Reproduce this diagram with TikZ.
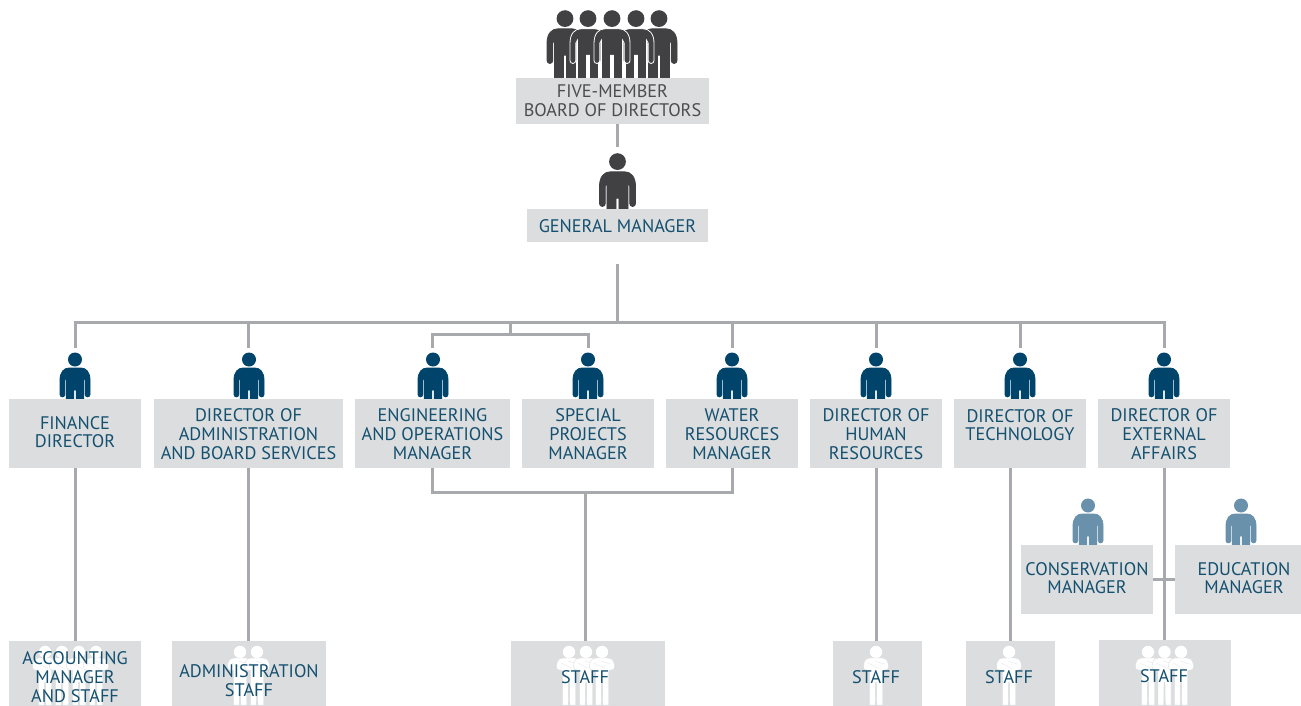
\documentclass[tikz,border=0pt]{standalone}
\usepackage{fontspec}
\usetikzlibrary{calc}
\setmainfont{PT Sans}
\definecolor{boxgray}{HTML}{DCDDDE}
\definecolor{linegray}{HTML}{A7A9AC}
\definecolor{navy}{HTML}{00446B}
\definecolor{navytext}{HTML}{14506F}
\definecolor{darkgray}{HTML}{414042}
\definecolor{greytext}{HTML}{4D4D4F}
\definecolor{teal}{HTML}{6A91AB}
% person: x, bottom y, colour, scale, leg extension, outline
\newcommand{\personfig}[6]{%
\begin{scope}[shift={(#1,#2)},scale=#4]
\fill[#3] (0,-39.5) circle (7);
\fill[#3,draw=#6,line width=.8] (-15,-4.5) -- (-15,-19)
  .. controls (-15,-27) and (-11,-31) .. (-6,-31) -- (6,-31)
  .. controls (11,-31) and (15,-27) .. (15,-19) -- (15,-4.5)
  arc[start angle=0,end angle=180,radius=2.4] -- (10.2,-19)
  .. controls (10.2,-20) and (9.6,-21) .. (8.8,-21.5) -- (8.8,#5) -- (1.2,#5)
  -- (1.2,-9) -- (-1.2,-9) -- (-1.2,#5) -- (-8.8,#5) -- (-8.8,-21.5)
  .. controls (-9.6,-21) and (-10.2,-20) .. (-10.2,-19) -- (-10.2,-4.5)
  arc[start angle=0,end angle=180,radius=2.4] -- cycle;
\end{scope}}
% staff figure: centre x, bottom of its box
\newcommand{\staffman}[2]{%
\begin{scope}[shift={(#1,#2)}]
\fill[white] (0,-54) circle (6.2);
\fill[white,draw=boxgray,line width=.4] (-6.5,-1) -- (-6.5,-35.5) -- (-11.5,-36.5)
  .. controls (-13,-38) and (-13,-41) .. (-12,-43)
  .. controls (-11,-46.5) and (-9,-48) .. (-6,-48) -- (6,-48)
  .. controls (9,-48) and (11,-46.5) .. (12,-43)
  .. controls (13,-41) and (13,-38) .. (11.5,-36.5) -- (6.5,-35.5) -- (6.5,-1)
  -- (.8,-1) -- (.5,-24) -- (-.5,-24) -- (-.8,-1) -- cycle;
\draw[boxgray!70!white,line width=.4] (-8,-43) -- (3,-37.5) (8,-42) -- (-1,-45);
\end{scope}}
\newcommand{\lift}{\rule[-2pt]{0pt}{1pt}}
\newcommand{\drop}{\rule{0pt}{15pt}}
\tikzset{
  orgbox/.style={fill=boxgray,text=navytext,align=center,inner sep=0pt,
    font=\fontsize{18.2}{19}\selectfont},
  boardbox/.style={orgbox,text=greytext},
  stafflabel/.style={text=navytext,align=center,inner sep=0pt,font=\fontsize{18.2}{19}\selectfont},
  link/.style={draw=linegray,line width=3pt}
}
\begin{document}
\begin{tikzpicture}[x=1pt,y=-1pt]
\useasboundingbox (0,0) rectangle (1301,706);
% figures above the boxes
\foreach \px in {565,659}{\personfig{\px}{66}{darkgray}{1.2}{14}{darkgray}}
\foreach \px in {588,636}{\personfig{\px}{66}{darkgray}{1.2}{14}{white}}
\personfig{612}{66}{darkgray}{1.2}{14}{white}
\personfig{617.5}{209}{darkgray}{1.2}{0}{darkgray}
\foreach \px in {75,249,433,588,732,876,1020,1164}{\personfig{\px}{399}{navy}{1}{0}{navy}}
\personfig{1088}{545}{teal}{1}{0}{teal}
\personfig{1241}{545}{teal}{1}{0}{teal}
% boxes
\node[boardbox,minimum width=193pt,minimum height=46pt] (board) at (612.5,101) {FIVE-MEMBER\\BOARD OF DIRECTORS};
\node[orgbox,minimum width=181pt,minimum height=33pt] (gm) at (617.5,225.5) {\drop GENERAL MANAGER};
\tikzset{rowbox/.style={orgbox,minimum height=69pt}}
\node[rowbox,minimum width=132pt] (finance) at (75,433.5) {FINANCE\\[-1pt]DIRECTOR\lift};
\node[rowbox,minimum width=189pt] (admin) at (248.5,433.5) {\drop DIRECTOR OF\\ADMINISTRATION\\AND BOARD SERVICES};
\node[rowbox,minimum width=155pt] (eng) at (432.5,433.5) {\drop ENGINEERING\\AND OPERATIONS\\MANAGER};
\node[rowbox,minimum width=132pt] (special) at (588,433.5) {\drop SPECIAL\\PROJECTS\\MANAGER};
\node[rowbox,minimum width=132pt] (water) at (732,433.5) {\drop WATER\\RESOURCES\\MANAGER};
\node[rowbox,minimum width=132pt] (hr) at (876,433.5) {\drop DIRECTOR OF\\HUMAN\\RESOURCES};
\node[rowbox,minimum width=132pt] (tech) at (1020,433.5) {\drop DIRECTOR OF\\[-1pt]TECHNOLOGY\\~};
\node[rowbox,minimum width=132pt] (ext) at (1164,433.5) {\drop DIRECTOR OF\\EXTERNAL\\AFFAIRS};
\node[rowbox,minimum width=132pt] (cons) at (1087,579.5) {CONSERVATION\\[-1pt]MANAGER\lift};
\node[rowbox,minimum width=126pt] (edu) at (1238,579.5) {\hspace*{12pt}EDUCATION\\[-1pt]\hspace*{12pt}MANAGER\lift};
\tikzset{staffbox/.style={fill=boxgray,minimum height=65pt,inner sep=0pt}}
\node[staffbox,minimum width=132pt] (acct) at (75,673.5) {};
\node[staffbox,minimum width=154pt] (adminstaff) at (249,673.5) {};
\node[staffbox,minimum width=154pt] (engstaff) at (588,673.5) {};
\node[staffbox,minimum width=89pt] (hrstaff) at (877.5,673.5) {};
\node[staffbox,minimum width=89pt] (techstaff) at (1010.5,673.5) {};
\node[staffbox,minimum width=132pt,minimum height=66pt] (extstaff) at (1165,673) {};
\foreach \px in {45,62,79,96}{\staffman{\px}{706}}
\foreach \px in {240,257}{\staffman{\px}{706}}
\foreach \px in {569,586,602}{\staffman{\px}{706}}
\staffman{876}{706}
\staffman{1009}{706}
\foreach \px in {1148,1164.5,1181}{\staffman{\px}{706}}
\node[stafflabel] (acctl) at (75,677) {ACCOUNTING\\MANAGER\\AND STAFF};
\node[stafflabel] (adminl) at (249,680.5) {ADMINISTRATION\\STAFF};
\node[stafflabel] (engl) at (585,677) {STAFF};
\node[stafflabel] (hrl) at (876,677) {STAFF};
\node[stafflabel] (techl) at (1009,677) {STAFF};
\node[stafflabel] (extl) at (1164,676) {STAFF};
% connectors
\coordinate (gmdrop) at (617.5,264);
\coordinate (bus) at (617.5,322);
\coordinate (gmin) at (617.5,147);
\coordinate (subbus) at (510,334);
\draw[link] (board.south -| gmin) -- (gmin);
\draw[link] (gmdrop) -- (bus);
\foreach \n in {finance,admin,water,hr,tech,ext}{
  \coordinate (top\n) at ($(\n.north)+(0,-51)$);
  \draw[link] (top\n) -- (top\n |- bus);
}
\draw[link,line cap=rect] (topfinance |- bus) -- (topext |- bus);
\draw[link] (subbus |- bus) -- (subbus);
\coordinate (topeng) at ($(eng.north)+(0,-51)$);
\coordinate (topspecial) at ($(special.north)+(0,-51)$);
\draw[link] (topeng) -- (topeng |- subbus) -- (topspecial |- subbus) -- (topspecial);
\draw[link] (finance.south) -- (acct.north -| finance.south);
\draw[link] (admin.south) -- (adminstaff.north -| admin.south);
\coordinate (merge) at (585,492);
\draw[link] (eng.south) -- (eng.south |- merge) -- (water.south |- merge) -- (water.south);
\draw[link] (merge) -- (engstaff.north -| merge);
\draw[link] (hr.south) -- (hrstaff.north -| hr.south);
\draw[link] (tech.south -| techstaff.north) -- (techstaff.north);
\draw[link] (ext.south) -- (extstaff.north -| ext.south);
\draw[link] (cons.east) -- (edu.west);
\end{tikzpicture}
\end{document}
